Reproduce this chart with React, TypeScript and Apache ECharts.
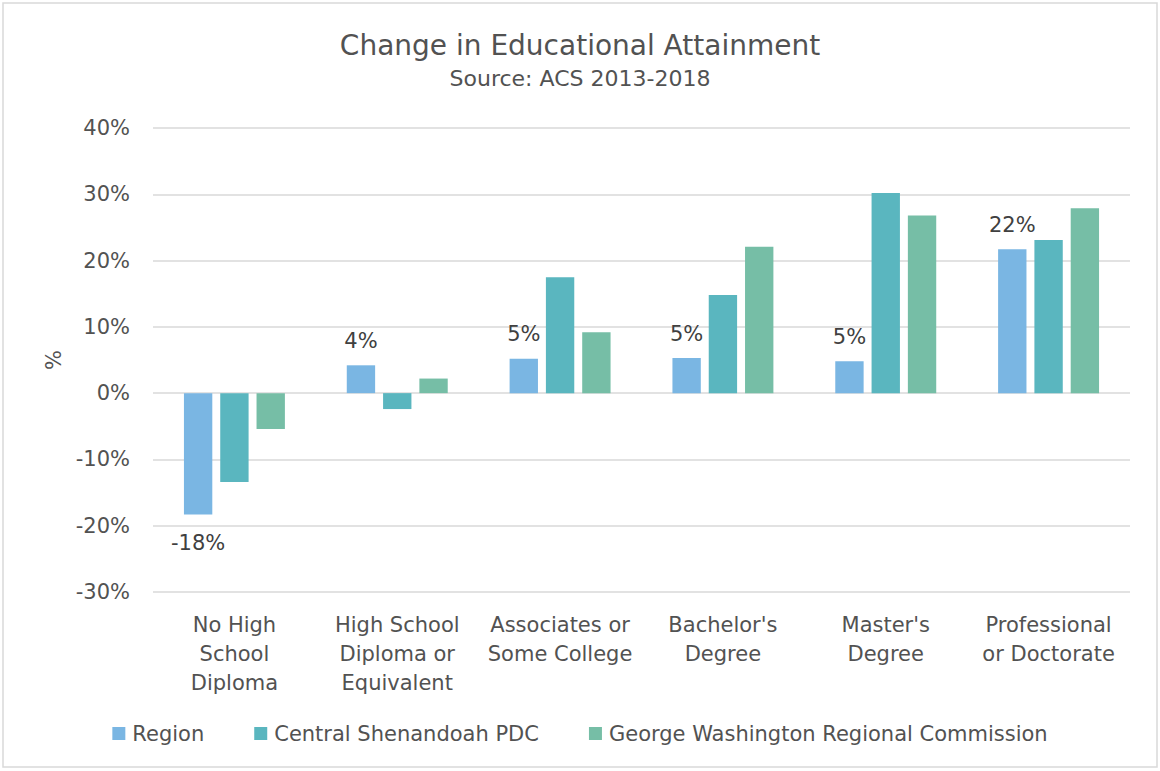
import React, { useEffect, useRef } from "react";
import * as echarts from "echarts";

const categories = [
  "No High\nSchool\nDiploma",
  "High School\nDiploma or\nEquivalent",
  "Associates or\nSome College",
  "Bachelor's\nDegree",
  "Master's\nDegree",
  "Professional\nor Doctorate",
];
const seriesNames = ["Region", "Central Shenandoah PDC", "George Washington Regional Commission"];
const regionValues = [-18.3, 4.2, 5.2, 5.3, 4.8, 21.7];
const centralValues = [-13.4, -2.4, 17.5, 14.8, 30.2, 23.1];
const gwValues = [-5.4, 2.2, 9.2, 22.1, 26.8, 27.9];
const yTicks = { min: -30, max: 40, interval: 10 };

const colors = ["#7AB6E3", "#5AB6BF", "#76BEA6"];
const FONT = "DejaVu Sans";
const TXT = "#525252";

export default function App() {
  const ref = useRef<HTMLDivElement>(null);
  useEffect(() => {
    if (!ref.current) return;
    const chart = echarts.init(ref.current, undefined, { renderer: "svg" });
    chart.setOption({
      animation: false,
      textStyle: { fontFamily: FONT },
      title: {
        text: "Change in Educational Attainment",
        subtext: "Source: ACS 2013-2018",
        left: "center",
        top: 26,
        itemGap: 8,
        textStyle: { fontSize: 28, fontWeight: "normal", color: TXT, fontFamily: FONT },
        subtextStyle: { fontSize: 22, color: TXT, fontFamily: FONT },
      },
      graphic: [
        {
          type: "rect",
          shape: { x: 3, y: 3, width: 1154, height: 764 },
          style: { fill: "none", stroke: "#d9d9d9", lineWidth: 1.5 },
          silent: true,
        },
      ],
      legend: {
        top: 718,
        left: "center",
        itemWidth: 13,
        itemHeight: 13,
        itemGap: 50,
        icon: "rect",
        textStyle: { fontSize: 21, color: TXT, fontFamily: FONT, padding: [0, 0, 0, 2] },
        data: seriesNames,
      },
      grid: { left: 153, right: 30, top: 128, bottom: 179 },
      xAxis: {
        type: "category",
        data: categories,
        axisTick: { show: false },
        axisLine: { show: false },
        axisLabel: {
          fontSize: 21,
          color: TXT,
          lineHeight: 29,
          margin: 18,
          interval: 0,
          fontFamily: FONT,
        },
      },
      yAxis: {
        type: "value",
        min: yTicks.min,
        max: yTicks.max,
        interval: yTicks.interval,
        name: "%",
        nameLocation: "middle",
        nameGap: 87,
        nameRotate: 90,
        nameTextStyle: { fontSize: 21, color: TXT, fontFamily: FONT },
        axisLabel: {
          formatter: "{value}%",
          fontSize: 21,
          color: TXT,
          margin: 23,
          fontFamily: FONT,
        },
        splitLine: { lineStyle: { color: "#d9d9d9", width: 1.5 } },
      },
      series: [
        {
          name: seriesNames[0],
          type: "bar",
          data: regionValues.map((v) => ({
            value: v,
            label: { position: v < 0 ? "bottom" : "top", distance: v < 0 ? 18 : 14 },
          })),
          itemStyle: { color: colors[0] },
          barGap: "28%",
          barCategoryGap: "38%",
          label: {
            show: true,
            fontSize: 21,
            color: "#404040",
            fontFamily: FONT,
            formatter: (p: any) => Math.round(p.value) + "%",
          },
        },
        {
          name: seriesNames[1],
          type: "bar",
          data: centralValues,
          itemStyle: { color: colors[1] },
          barGap: "28%",
          barCategoryGap: "38%",
        },
        {
          name: seriesNames[2],
          type: "bar",
          data: gwValues,
          itemStyle: { color: colors[2] },
          barGap: "28%",
          barCategoryGap: "38%",
        },
      ],
    });
    return () => chart.dispose();
  }, []);
  return (
    <div
      ref={ref}
      style={{ position: "absolute", left: 0, top: 0, width: 1160, height: 771, background: "#fff" }}
    />
  );
}
